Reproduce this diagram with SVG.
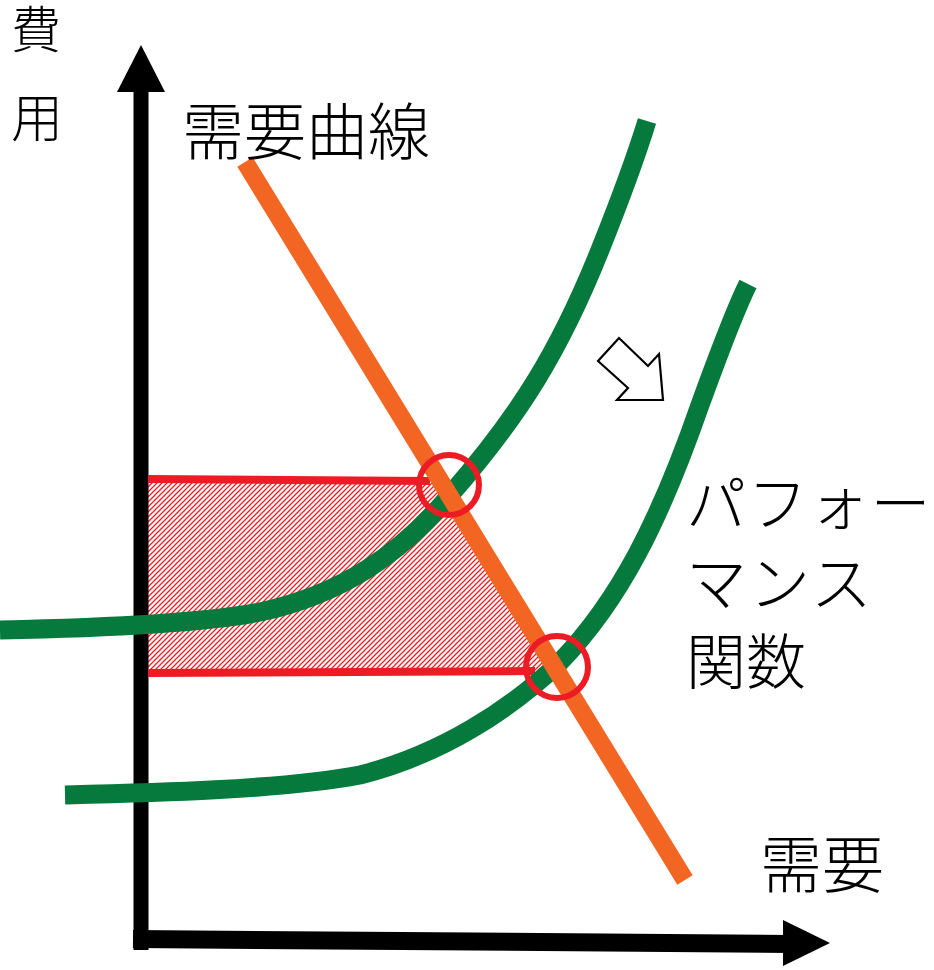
<svg xmlns="http://www.w3.org/2000/svg" width="934" height="970" viewBox="0 0 934 970">
<style>
.t{font-family:"Noto Sans CJK JP","Noto Sans CJK SC",sans-serif;font-weight:300;fill:#000;}
.grn{fill:none;stroke:#067a3c;stroke-width:19;stroke-linecap:butt;stroke-linejoin:round;}
.red{fill:none;stroke:#ed1c24;}
.ax{stroke:#000;fill:none;}
</style>
<defs>
<pattern id="hatch" patternUnits="userSpaceOnUse" width="5" height="5">
<path d="M-1,6 L6,-1 M-1,1 L1,-1 M4,6 L6,4" stroke="#ed1c24" stroke-width="1.3"/>
</pattern>
</defs>
<g id="hatch-area">
<polygon points="148,480 440,480 557,672 148,672" fill="url(#hatch)"/>
</g>
<g id="axes">
<line class="ax" x1="141" y1="88" x2="141" y2="950" stroke-width="15"/>
<polygon points="141,45 117,92 165,92" fill="#000"/>
<line class="ax" x1="133" y1="939" x2="790" y2="944" stroke-width="18"/>
<polygon points="830,943 783,920 783,966" fill="#000"/>
</g>
<g id="connectors">
<line class="red" x1="148" y1="479" x2="430" y2="481" stroke-width="8"/>
<line class="red" x1="148" y1="673" x2="535" y2="671" stroke-width="8"/>
<path id="curve1" class="grn" d="M0,630 C100,628 200,624 260,612 C340,595 400,555 450,495 C520,415 560,350 600,250 C620,200 635,160 647,121"/>
<path id="curve2" class="grn" d="M65,795 C150,793 280,790 360,775 C440,755 510,710 560,662 C620,600 660,520 700,405 C720,350 735,310 748,284"/>
<line id="demand" x1="245" y1="162" x2="685" y2="880" stroke="#f26522" stroke-width="18"/>
<circle class="red" cx="449" cy="485" r="30" stroke-width="6"/>
<circle class="red" cx="557" cy="667" r="31" stroke-width="6"/>
</g>
<g id="shift-arrow">
<polygon points="598,361 619,338 648,366 659,354 663,400 617,400 628,388" fill="#fff" stroke="#000" stroke-width="2.2" stroke-linejoin="miter"/>
</g>
<g id="label-cost">
<text class="t" x="11" y="48" font-size="50">費</text>
<text class="t" x="11" y="137" font-size="52">用</text>
</g>
<g id="label-demand-curve">
<text class="t" x="182" y="155" font-size="62">需要曲線</text>
</g>
<g id="label-performance">
<text class="t" x="686" y="526" font-size="60" letter-spacing="1.5">パフォー</text>
<text class="t" x="686" y="606" font-size="61" letter-spacing="2">マンス</text>
<text class="t" x="686" y="684" font-size="60">関数</text>
</g>
<g id="label-demand">
<text class="t" x="760" y="888" font-size="62">需要</text>
</g>
</svg>
